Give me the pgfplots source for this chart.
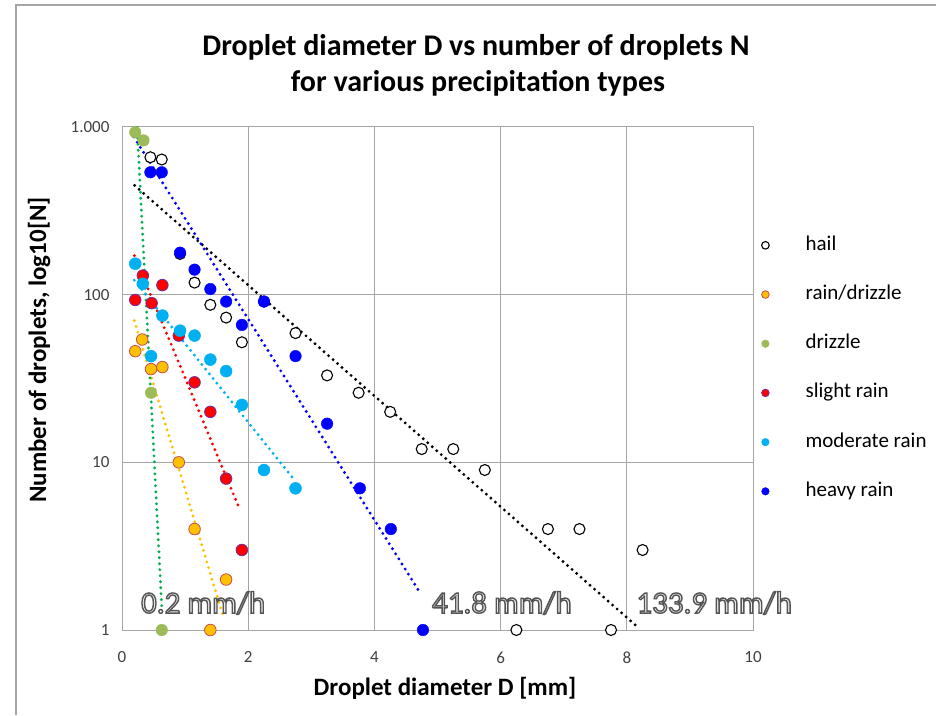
\documentclass[border=0pt]{standalone}
\usepackage{pgfplots}
\pgfplotsset{compat=1.18}
\usepackage{fontspec}
\setmainfont{Carlito}
\definecolor{gridgray}{RGB}{166,166,166}
\definecolor{cOrange}{RGB}{255,192,0}
\definecolor{cOrangeEdge}{RGB}{192,80,77}
\definecolor{cGreen}{RGB}{155,187,89}
\definecolor{cGreenLine}{RGB}{0,176,80}
\definecolor{cRed}{RGB}{255,0,0}
\definecolor{cRedEdge}{RGB}{112,48,160}
\definecolor{cCyan}{RGB}{0,176,240}
\definecolor{cBlue}{RGB}{0,0,255}
\definecolor{tickgray}{RGB}{64,64,64}
\newcommand{\outl}[1]{\textcolor{white!92!black}{\special{pdf:literal direct 0.33 0.33 0.33 RG 1.4 w 2 Tr}#1\special{pdf:literal direct 0 Tr}}}
\begin{document}
\begin{tikzpicture}[x=1pt,y=1pt]
\path[use as bounding box] (0,0) rectangle (936,715);
\draw[gridgray, line width=1.5pt] (16,0) -- (16,710) -- (936,710);
\node[font=\fontsize{30}{34}\selectfont\bfseries] at (476,668) {Droplet diameter D vs number of droplets N};
\node[font=\fontsize{30}{34}\selectfont\bfseries] at (478,632) {for various precipitation types};
\node[font=\fontsize{25}{30}\selectfont\bfseries] at (445,27) {Droplet diameter D [mm]};
\node[font=\fontsize{25}{30}\selectfont\bfseries, rotate=90] at (39,365) {Number of droplets, log10[N]};
\begin{axis}[
  at={(122pt,85pt)}, anchor=south west,
  scale only axis, width=631pt, height=503pt,
  xmin=0, xmax=10, ymode=log, ymin=1, ymax=1000,
  xtick={0,2,4,6,8,10},
  ytick={1,10,100,1000}, yticklabels={1,10,100,1.000},
  grid=major,
  major grid style={gridgray, line width=1pt},
  axis line style={gridgray, line width=1pt},
  major tick length=0pt, minor tick length=0pt,
  log basis y=10,
  /pgf/number format/assume math mode=true,
  ticklabel style={font=\fontsize{17}{19}\selectfont, text=tickgray},
  xticklabel style={yshift=-18pt},
  yticklabel style={xshift=-9pt},
  legend cell align=left,
  legend style={draw=none, fill=none, at={(1.0127,0.787)}, anchor=north west,
    font=\fontsize{21}{24}\selectfont, row sep=27.2pt, inner sep=0pt,
    nodes={inner sep=2pt, text height=14pt, text depth=4pt}},
  legend image code/.code={\draw[#1, mark size=3.8pt] plot coordinates {(0pt,0pt)}; \path (-4pt,0pt) (38pt,0pt);},
  clip mode=individual,
]
% trendlines
\addplot[forget plot, black, line width=3.2pt, line cap=round, dash pattern=on 0pt off 6pt] coordinates {(0.2,448) (8.2,1.02)};
\addplot[forget plot, cOrange, line width=3.2pt, line cap=round, dash pattern=on 0pt off 6pt] coordinates {(0.195,70) (1.6,1.22)};
\addplot[forget plot, cGreenLine, line width=3.2pt, line cap=round, dash pattern=on 0pt off 6pt] coordinates {(0.2,1950) (0.63,1.37)};
\addplot[forget plot, cRed, line width=3.2pt, line cap=round, dash pattern=on 0pt off 6pt] coordinates {(0.195,171) (1.86,5.3)};
\addplot[forget plot, cCyan, line width=3.2pt, line cap=round, dash pattern=on 0pt off 6pt] coordinates {(0.195,122) (2.75,7.7)};
\addplot[forget plot, cBlue, line width=3.2pt, line cap=round, dash pattern=on 0pt off 6pt] coordinates {(0.19,870) (4.71,1.7)};
% data
\addplot[only marks, mark=*, mark size=5.5pt, mark options={fill=white, draw=black, line width=1.1pt}] coordinates {
(0.45,660) (0.63,640) (0.92,175) (1.15,118) (1.4,87) (1.65,73) (1.9,52) (2.25,91) (2.75,59) (3.25,33) (3.75,26) (4.25,20) (4.75,12) (5.25,12) (5.75,9) (6.25,1) (6.75,4) (7.25,4) (7.75,1) (8.25,3)};
\addlegendentry{hail}
\addplot[only marks, mark=*, mark size=5.8pt, mark options={fill=cOrange, draw=cOrangeEdge, line width=0.8pt}] coordinates {
(0.21,46) (0.32,54) (0.46,36) (0.64,37) (0.9,10) (1.15,4) (1.4,1) (1.65,2)};
\addlegendentry{rain/drizzle}
\addplot[only marks, mark=*, mark size=5.8pt, mark options={fill=cGreen, draw=cGreen}] coordinates {
(0.21,930) (0.34,832) (0.46,26) (0.63,1)};
\addlegendentry{drizzle}
\addplot[only marks, mark=*, mark size=5.8pt, mark options={fill=cRed, draw=cRedEdge, line width=0.8pt}] coordinates {
(0.21,93) (0.33,130) (0.47,89) (0.64,114) (0.9,57) (1.15,30) (1.4,20) (1.65,8) (1.9,3)};
\addlegendentry{slight rain}
\addplot[only marks, mark=*, mark size=6pt, mark options={fill=cCyan, draw=cCyan}] coordinates {
(0.21,153) (0.33,116) (0.46,43) (0.64,75) (0.92,61) (1.15,57) (1.4,41) (1.65,35) (1.9,22) (2.25,9) (2.75,7)};
\addlegendentry{moderate rain}
\addplot[only marks, mark=*, mark size=5.8pt, mark options={fill=cBlue, draw=cBlue}] coordinates {
(0.45,537) (0.63,537) (0.92,178) (1.15,141) (1.4,108) (1.65,91) (1.9,66) (2.25,91) (2.75,43) (3.25,17) (3.77,7) (4.26,4) (4.77,1)};
\addlegendentry{heavy rain}
\node[anchor=west, font=\fontsize{31}{36}\selectfont, inner sep=0pt] at (axis cs:0.3,1.45) {\outl{0.2 mm/h}};
\node[anchor=west, font=\fontsize{31}{36}\selectfont, inner sep=0pt] at (axis cs:4.91,1.45) {\outl{41.8 mm/h}};
\node[anchor=west, font=\fontsize{31}{36}\selectfont, inner sep=0pt] at (axis cs:8.15,1.45) {\outl{133.9 mm/h}};
\end{axis}
\end{tikzpicture}
\end{document}
